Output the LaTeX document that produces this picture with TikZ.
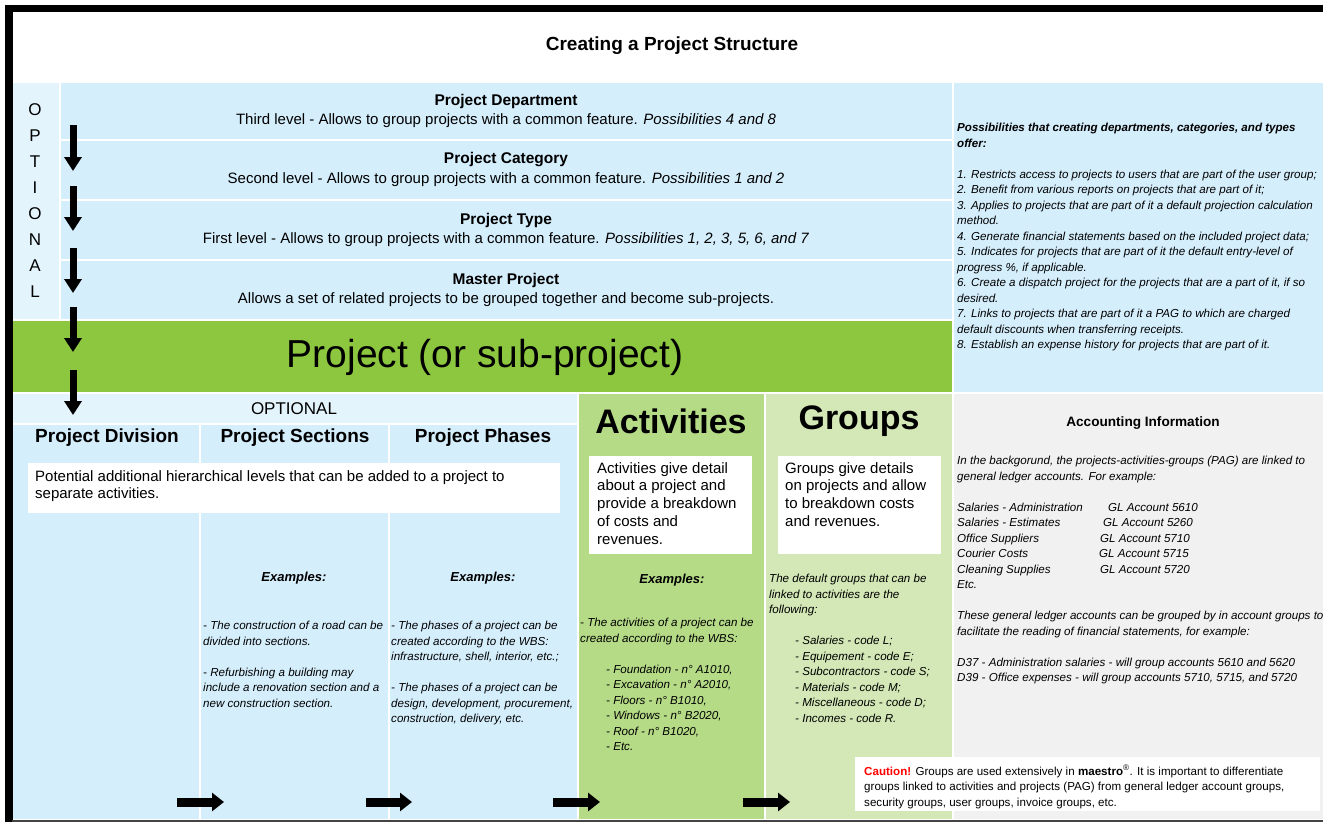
\documentclass[tikz,border=0pt]{standalone}
\usepackage{fontspec}
\setmainfont{Liberation Sans}
\usepackage{xcolor}
\usetikzlibrary{arrows.meta}
\definecolor{paleblue}{HTML}{D5EEFC}
\definecolor{optblue}{HTML}{E3F4FD}
\definecolor{projgreen}{HTML}{8DC63F}
\definecolor{actgreen}{HTML}{B5DB87}
\definecolor{grpgreen}{HTML}{D3E8B6}
\definecolor{acctgray}{HTML}{F1F1F1}
\definecolor{edgegray}{HTML}{444444}
\tikzset{
  area/.style={draw=white,line width=1.5pt,fill=#1},
  lvlhead/.style={font=\bfseries\fontsize{15.5}{18}\selectfont},
  lvltext/.style={font=\fontsize{15}{18}\selectfont},
  colhead/.style={font=\bfseries\fontsize{19}{22}\selectfont},
  bigname/.style={font=\bfseries\fontsize{34}{40}\selectfont},
  notes/.style={font=\itshape\fontsize{11.6}{15.5}\selectfont,align=left,inner sep=0pt,anchor=north west},
  boxtext/.style={font=\fontsize{15}{17.75}\selectfont,align=left,inner sep=0pt,anchor=north west},
  exhead/.style={font=\bfseries\itshape\fontsize{13}{15}\selectfont},
  downarr/.style={line width=7pt,-{Triangle[length=14pt 0,width=17pt 0]}},
  rightarr/.style={line width=9pt,-{Triangle[length=12pt 0,width=18pt 0]}},
}
\begin{document}
\begin{tikzpicture}[x=1pt,y=-1pt]
\useasboundingbox (0,0) rectangle (1323,822);
\fill[white] (0,0) rectangle (1323,822);
\path[area=optblue] (12,82) rectangle (60,320);
\foreach \t/\b in {82/140,140/200,200/260,260/320} \path[area=paleblue] (60,\t) rectangle (953,\b);
\path[area=paleblue] (953,82) rectangle (1324,393);
\path[area=projgreen] (12,320) rectangle (953,393);
\path[area=optblue] (12,393) rectangle (578,424);
\foreach \l/\r in {12/200,200/389,389/578} \path[area=paleblue] (\l,424) rectangle (\r,820);
\path[area=actgreen] (578,393) rectangle (765,820);
\path[area=grpgreen] (765,393) rectangle (953,820);
\path[area=acctgray] (953,393) rectangle (1324,820);
\fill[black] (5,5) rectangle (1323,12);
\fill[black] (5,5) rectangle (12.8,822);
\draw[edgegray,line width=2.5pt] (12,821) -- (1323,821);

\node[font=\bfseries\fontsize{19}{22}\selectfont] (title) at (672,46) {Creating a Project Structure};
\foreach \c [count=\i] in {O,P,T,I,O,N,A,L}
  \node[font=\fontsize{17}{19}\selectfont] (opt\i) at (35,{84+26*\i}) {\c};

\node[lvlhead] (dept) at (506,101) {Project Department};
\node[lvltext] (depttxt) at (506,121) {Third level - Allows to group projects with a common feature. \textit{Possibilities 4 and 8}};
\node[lvlhead] (cat) at (506,160) {Project Category};
\node[lvltext] (cattxt) at (506,180) {Second level - Allows to group projects with a common feature. \textit{Possibilities 1 and 2}};
\node[lvlhead] (type) at (506,220) {Project Type};
\node[lvltext] (typetxt) at (506,240) {First level - Allows to group projects with a common feature. \textit{Possibilities 1, 2, 3, 5, 6, and 7}};
\node[lvlhead] (master) at (506,280) {Master Project};
\node[lvltext] (mastertxt) at (506,300) {Allows a set of related projects to be grouped together and become sub-projects.};
\node[font=\fontsize{39}{44}\selectfont] (project) at (485,357) {Project (or sub-project)};

\node[notes] (possib) at (957,123) {\textbf{Possibilities that creating departments, categories, and types}\\
\textbf{offer:}\\[15.5pt]
1. Restricts access to projects to users that are part of the user group;\\
2. Benefit from various reports on projects that are part of it;\\
3. Applies to projects that are part of it a default projection calculation\\
method.\\
4. Generate financial statements based on the included project data;\\
5. Indicates for projects that are part of it the default entry-level of\\
progress \%, if applicable.\\
6. Create a dispatch project for the projects that are a part of it, if so\\
desired.\\
7. Links to projects that are part of it a PAG to which are charged\\
default discounts when transferring receipts.\\
8. Establish an expense history for projects that are part of it.};

\node[font=\fontsize{17}{19}\selectfont] (optional) at (294,409) {OPTIONAL};
\node[colhead] (division) at (107,438) {Project Division};
\node[colhead] (sections) at (295,438) {Project Sections};
\node[colhead] (phases) at (483,438) {Project Phases};
\fill[white] (28,463) rectangle (560,513);
\node[boxtext,font=\fontsize{15}{17}\selectfont] (levels) at (35,470)
  {Potential additional hierarchical levels that can be added to a project to\\ separate activities.};

\node[bigname] (activities) at (671,421) {Activities};
\node[bigname] (groups) at (859,421) {Groups};
\fill[white] (589,456) rectangle (752,554);
\fill[white] (778,456) rectangle (941,554);
\node[boxtext] (acttxt) at (597,462)
  {Activities give detail\\ about a project and\\ provide a breakdown\\ of costs and\\ revenues.};
\node[boxtext] (grptxt) at (785,462)
  {Groups give details\\ on projects and allow\\ to breakdown costs\\ and revenues.};

\node[exhead] (secex) at (294,578) {Examples:};
\node[exhead] (phaseex) at (483,578) {Examples:};
\node[exhead] (actex) at (672,580) {Examples:};
\node[notes] (secbody) at (203,621) {- The construction of a road can be\\ divided into sections.\\[15.5pt]
- Refurbishing a building may\\ include a renovation section and a\\ new construction section.};
\node[notes] (phasebody) at (391,621) {- The phases of a project can be\\ created according to the WBS:\\ infrastructure, shell, interior, etc.;\\[15.5pt]
- The phases of a project can be\\ design, development, procurement,\\ construction, delivery, etc.};
\node[notes] (actbody) at (580,618) {- The activities of a project can be\\ created according to the WBS:\\[15.5pt]
\hspace*{26pt}- Foundation - n° A1010,\\ \hspace*{26pt}- Excavation - n° A2010,\\ \hspace*{26pt}- Floors - n° B1010,\\
\hspace*{26pt}- Windows - n° B2020,\\ \hspace*{26pt}- Roof - n° B1020,\\ \hspace*{26pt}- Etc.};
\node[notes] (grpbody) at (769,574) {The default groups that can be\\ linked to activities are the\\ following:\\[15.5pt]
\hspace*{26pt}- Salaries - code L;\\ \hspace*{26pt}- Equipement - code E;\\ \hspace*{26pt}- Subcontractors - code S;\\
\hspace*{26pt}- Materials - code M;\\ \hspace*{26pt}- Miscellaneous - code D;\\ \hspace*{26pt}- Incomes - code R.};

\node[font=\bfseries\fontsize{13.6}{16}\selectfont] (accinfo) at (1143,423) {Accounting Information};
\node[notes] (accbody) at (957,456) {In the backgorund, the projects-activities-groups (PAG) are linked to\\ general ledger accounts. For example:\\[15.5pt]
\makebox[151pt][l]{Salaries - Administration}GL Account 5610\\
\makebox[146pt][l]{Salaries - Estimates}GL Account 5260\\
\makebox[143pt][l]{Office Suppliers}GL Account 5710\\
\makebox[142pt][l]{Courier Costs}GL Account 5715\\
\makebox[143pt][l]{Cleaning Supplies}GL Account 5720\\
Etc.\\[15.5pt]
These general ledger accounts can be grouped by in account groups to\\ facilitate the reading of financial statements, for example:\\[15.5pt]
D37 - Administration salaries - will group accounts 5610 and 5620\\
D39 - Office expenses - will group accounts 5710, 5715, and 5720};

\fill[white] (855,757) rectangle (1320,811);
\node[boxtext,font=\fontsize{11.6}{15.5}\selectfont] (caution) at (864,765)
  {\textcolor{red}{\textbf{Caution!}} Groups are used extensively in \textbf{maestro}\textsuperscript{®}. It is important to differentiate\\
  groups linked to activities and projects (PAG) from general ledger account  groups,\\ security groups, user groups, invoice groups, etc.};

\foreach \a/\b [count=\i] in {125/171,186/231,248/293,307/352,370/415} {
  \coordinate (dn\i a) at (73,\a);
  \coordinate (dn\i b) at (73,\b);
  \draw[downarr] (dn\i a) -- (dn\i b);
}
\foreach \a/\b [count=\i] in {177/224,366/412,553/600,743/790} {
  \coordinate (rt\i a) at (\a,802);
  \coordinate (rt\i b) at (\b,802);
  \draw[rightarr] (rt\i a) -- (rt\i b);
}
\end{tikzpicture}
\end{document}
